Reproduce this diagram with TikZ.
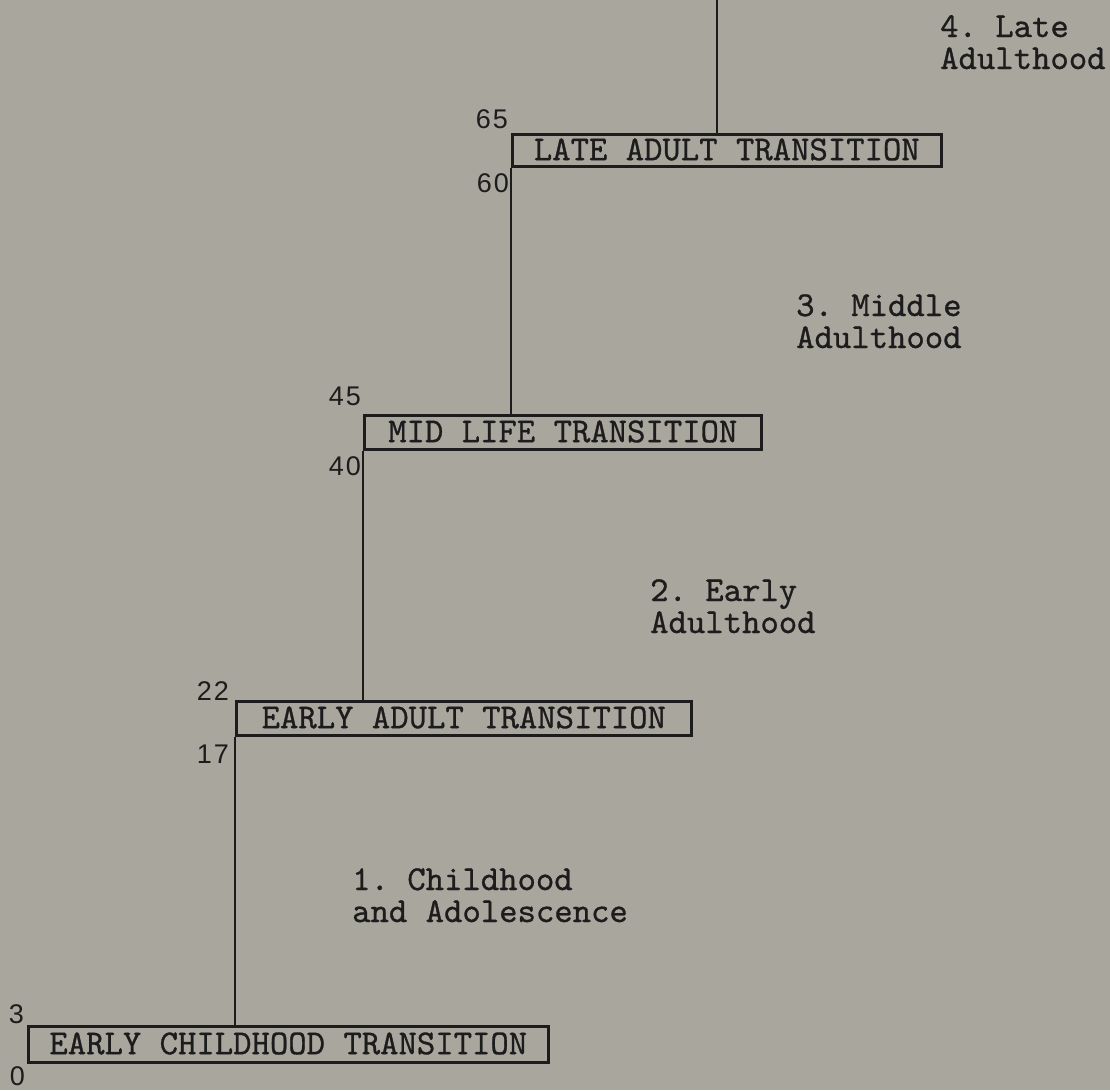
\documentclass[tikz,border=0pt]{standalone}
\usepackage{fontspec}
\setmonofont[FakeBold=0.8]{lmmono10-regular.otf}
\newfontfamily\numfont{Liberation Sans}
\definecolor{paper}{HTML}{A9A69E}
\definecolor{ink}{HTML}{1C1C1C}
\begin{document}
\begin{tikzpicture}[x=1pt,y=-1pt,
  tw/.style={font=\ttfamily\fontsize{35}{32}\selectfont, text=ink},
  box/.style={tw, draw=ink, line width=2.6pt, inner sep=0pt, anchor=south west,
    text height=19pt, text depth=0pt},
  stage/.style={tw, inner sep=0pt, anchor=base west, align=left},
  num/.style={font=\numfont\fontsize{27}{27}\selectfont, text=ink, inner sep=0pt, anchor=base east},
  conn/.style={draw=ink, line width=2.4pt}]
\fill[paper] (0,0) rectangle (1110,1090);
\useasboundingbox (0,0) rectangle (1110,1090);

% transition boxes
\node[box, minimum width=520pt, minimum height=36pt] (b1) at (27,1064) {EARLY CHILDHOOD TRANSITION};
\node[box, minimum width=455pt, minimum height=34pt] (b2) at (235,737) {EARLY ADULT TRANSITION};
\node[box, minimum width=397pt, minimum height=34pt] (b3) at (363,451) {MID LIFE TRANSITION};
\node[box, minimum width=429pt, minimum height=32pt] (b4) at (511,168) {LATE ADULT TRANSITION};
\coordinate (top) at (717,0);

% connectors
\draw[conn] (b2.south west |- b1.north) -- (b2.south west);
\draw[conn] (b3.south west |- b2.north) -- (b3.south west);
\draw[conn] (b4.south west |- b3.north) -- (b4.south west);
\draw[conn] (top |- b4.north) -- (top);

% ages
\node[num] (n3) at (24,1023) {3};
\node[num] (n0) at (25,1085) {0};
\node[num] (n22) at (229,700) {2\kern2pt2};
\node[num] (n17) at (229,763) {1\kern2pt7};
\node[num] (n45) at (361,405) {4\kern2pt5};
\node[num] (n40) at (361,475) {4\kern2pt0};
\node[num] (n65) at (508,128) {6\kern2pt5};
\node[num] (n60) at (509,192) {6\kern2pt0};

% stages (anchor at baseline of the last line)
\node[stage] (s1) at (352,922) {1. Childhood\\and Adolescence};
\node[stage] (s2) at (650,633) {2. Early\\Adulthood};
\node[stage] (s3) at (796,348) {3. Middle\\Adulthood};
\node[stage] (s4) at (940,69) {4. Late\\Adulthood};
\end{tikzpicture}
\end{document}
